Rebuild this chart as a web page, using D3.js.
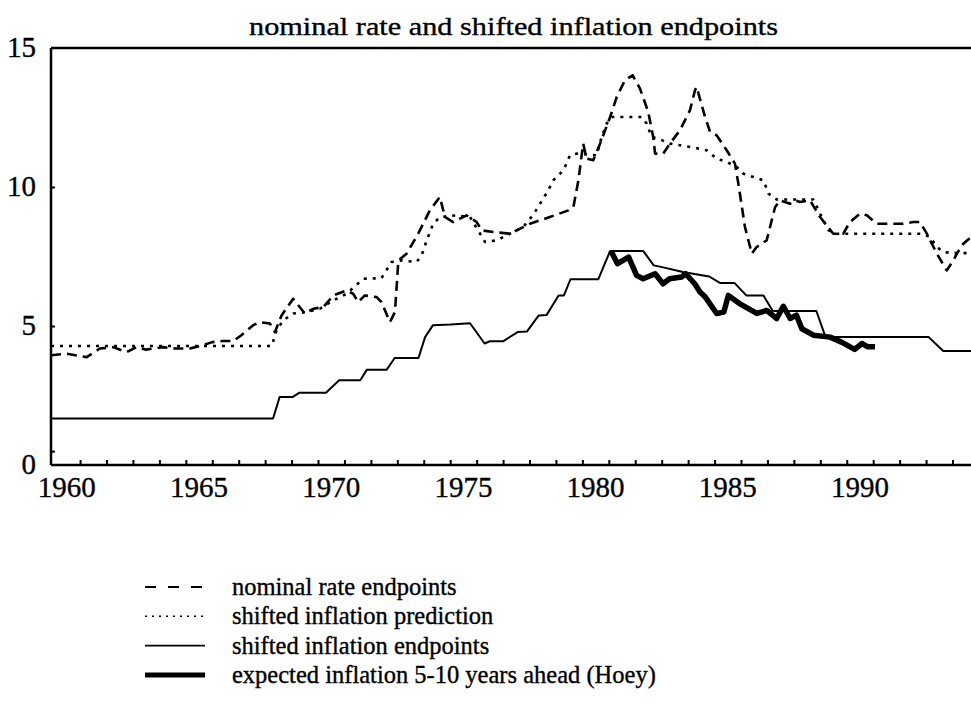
<!DOCTYPE html>
<html lang="en">
<head>
<meta charset="UTF-8">
<title>nominal rate and shifted inflation endpoints</title>
<script src="https://d3js.org/d3.v7.min.js"></script>
<style>
    body { margin: 0; background: white; }
    svg { display: block; font-family: "Liberation Serif", "Times New Roman", serif; }
    svg text { fill: black; stroke: black; stroke-width: 0.35px; }
</style>
</head>
<body>
<svg id="vis"></svg>
<script>
// values: [year, percent]
const nominalRate = [
    [1959.4, 3.95], [1960.0, 4.0], [1960.75, 3.88], [1961.25, 4.19], [1961.75, 4.24], [1962.26, 4.06],
    [1962.64, 4.24], [1963.0, 4.15], [1963.64, 4.24], [1964.0, 4.19], [1964.65, 4.19], [1965.0, 4.27],
    [1965.5, 4.42], [1965.9, 4.46], [1966.3, 4.46], [1966.6, 4.67], [1967.05, 5.03], [1967.3, 5.14],
    [1967.68, 5.09], [1967.87, 4.78], [1968.12, 5.38], [1968.56, 5.98], [1969.0, 5.45], [1969.32, 5.62],
    [1969.7, 5.68], [1970.08, 6.1], [1970.58, 6.28], [1970.83, 6.16], [1971.02, 5.86], [1971.27, 6.1],
    [1971.72, 6.04], [1971.9, 5.86], [1972.22, 5.14], [1972.41, 5.5], [1972.54, 7.36], [1972.85, 7.6],
    [1973.29, 8.32], [1973.73, 9.16], [1974.11, 9.64], [1974.3, 8.92], [1974.61, 8.74], [1975.12, 8.98],
    [1975.5, 8.74], [1975.69, 8.44], [1976.13, 8.38], [1976.76, 8.32], [1977.01, 8.44], [1977.52, 8.68],
    [1978.27, 8.92], [1978.97, 9.16], [1979.16, 9.28], [1979.35, 10.24], [1979.53, 11.56], [1979.66, 11.02],
    [1979.91, 10.96], [1980.17, 11.56], [1980.55, 12.52], [1980.8, 13.24], [1981.11, 13.84], [1981.4, 14.02],
    [1981.68, 13.54], [1981.99, 12.7], [1982.18, 11.8], [1982.25, 11.2], [1982.56, 11.2], [1982.81, 11.56],
    [1983.19, 12.04], [1983.57, 12.76], [1983.76, 13.48], [1983.82, 13.6], [1984.14, 12.52], [1984.33, 11.98],
    [1984.58, 11.86], [1984.96, 11.32], [1985.27, 10.84], [1985.4, 10.12], [1985.65, 8.56], [1985.91, 7.6],
    [1986.09, 7.84], [1986.47, 8.08], [1986.79, 9.28], [1986.98, 9.52], [1987.36, 9.4], [1987.55, 9.52],
    [1987.73, 9.46], [1988.11, 9.52], [1988.49, 8.92], [1988.99, 8.32], [1989.37, 8.32], [1989.62, 8.74],
    [1990.0, 9.04], [1990.26, 8.98], [1990.63, 8.68], [1991.01, 8.68], [1991.64, 8.68], [1992.02, 8.74],
    [1992.27, 8.74], [1992.53, 8.32], [1992.91, 7.6], [1993.28, 7.0], [1993.54, 7.36], [1993.66, 7.6],
    [1993.91, 7.96], [1994.2, 8.2]
];
const inflationPrediction = [
    [1959.4, 4.28], [1967.75, 4.28], [1967.93, 4.84], [1968.18, 5.2], [1968.56, 5.45], [1969.07, 5.5],
    [1969.57, 5.62], [1970.08, 5.92], [1970.58, 6.16], [1971.21, 6.7], [1971.9, 6.72], [1972.28, 7.3],
    [1972.66, 7.36], [1973.23, 7.3], [1973.42, 7.54], [1973.61, 8.08], [1973.86, 8.68], [1974.11, 8.92],
    [1974.74, 8.98], [1975.25, 8.92], [1975.63, 8.32], [1975.82, 8.02], [1976.26, 8.08], [1976.76, 8.32],
    [1977.26, 8.56], [1977.64, 9.0], [1977.9, 9.4], [1978.21, 9.88], [1978.4, 10.24], [1978.66, 10.48],
    [1978.84, 10.72], [1979.03, 11.14], [1979.28, 11.2], [1980.04, 11.14], [1980.23, 11.8], [1980.42, 12.28],
    [1980.61, 12.52], [1981.75, 12.52], [1981.93, 12.28], [1982.12, 11.8], [1982.37, 11.74], [1982.81, 11.56],
    [1983.19, 11.5], [1983.7, 11.42], [1984.2, 11.32], [1984.58, 11.02], [1984.96, 10.9], [1985.34, 10.72],
    [1985.59, 10.48], [1985.97, 10.36], [1986.35, 10.24], [1986.54, 9.76], [1986.85, 9.55], [1988.24, 9.55],
    [1988.49, 9.04], [1988.81, 8.44], [1989.12, 8.32], [1992.34, 8.32], [1992.65, 8.2], [1992.91, 7.84],
    [1993.16, 7.66], [1993.54, 7.62], [1994.2, 7.62]
];
const inflationEndpoints = [
    [1959.4, 1.67], [1967.8, 1.67], [1968.05, 2.45], [1968.55, 2.45], [1968.8, 2.6], [1969.8, 2.6],
    [1970.3, 3.05], [1971.1, 3.05], [1971.35, 3.43], [1972.1, 3.43], [1972.4, 3.85], [1973.3, 3.85],
    [1973.55, 4.6], [1973.85, 5.03], [1974.5, 5.05], [1975.25, 5.1], [1975.8, 4.37], [1976.0, 4.45],
    [1976.5, 4.45], [1977.05, 4.78], [1977.4, 4.8], [1977.85, 5.38], [1978.15, 5.4], [1978.6, 6.1],
    [1978.8, 6.1], [1979.05, 6.68], [1980.1, 6.68], [1980.55, 7.7], [1981.8, 7.7], [1982.2, 7.18],
    [1982.6, 7.1], [1983.3, 6.94], [1984.3, 6.78], [1984.7, 6.55], [1985.25, 6.55], [1985.7, 6.1],
    [1986.35, 6.1], [1986.7, 5.54], [1988.35, 5.54], [1988.7, 4.6], [1992.6, 4.6], [1993.15, 4.1],
    [1994.3, 4.1]
];
const hoeyExpected = [
    [1980.58, 7.7], [1980.83, 7.24], [1981.25, 7.48], [1981.55, 6.82], [1981.8, 6.7], [1982.25, 6.88],
    [1982.55, 6.52], [1982.8, 6.7], [1983.25, 6.76], [1983.4, 6.88], [1983.75, 6.52], [1983.95, 6.22],
    [1984.15, 6.04], [1984.58, 5.45], [1984.85, 5.5], [1985.02, 6.1], [1985.46, 5.8], [1986.1, 5.45],
    [1986.47, 5.56], [1986.85, 5.27], [1987.1, 5.71], [1987.36, 5.27], [1987.6, 5.39], [1987.8, 4.9],
    [1988.24, 4.67], [1988.87, 4.6], [1989.3, 4.42], [1989.8, 4.16], [1990.07, 4.37], [1990.3, 4.25],
    [1990.57, 4.25]
];

const yearLabels = [1960, 1965, 1970, 1975, 1980, 1985, 1990];
const minorYears = d3.range(1960.5, 1994, 1);
const valueLabels = [0, 5, 10, 15];
const valueTicks = [0.5, 5, 10];

const legendItems = [
    { label: "nominal rate endpoints", dash: "11,12", width: 2 },
    { label: "shifted inflation prediction", dash: "2,5", width: 1.6 },
    { label: "shifted inflation endpoints", dash: null, width: 1.6 },
    { label: "expected inflation 5-10 years ahead (Hoey)", dash: null, width: 5 }
];

const width = 971, height = 713;
const margin = { left: 51, right: 0, top: 48, bottom: 248 };

const svg = d3.select("#vis").attr("width", width).attr("height", height);

const x = d3.scaleLinear().domain([1959.4, 1994.2]).range([margin.left, width - margin.right]);
const y = d3.scaleLinear().domain([0, 15]).range([height - margin.bottom, margin.top]);

svg.append("defs").append("clipPath").attr("id", "plot")
    .append("rect")
    .attr("x", margin.left).attr("y", margin.top - 2)
    .attr("width", width - margin.left - margin.right)
    .attr("height", y(0) - margin.top + 2);

// title
svg.append("text")
    .attr("x", 249).attr("y", 35)
    .attr("font-size", 26)
    .attr("textLength", 529)
    .attr("lengthAdjust", "spacingAndGlyphs")
    .text("nominal rate and shifted inflation endpoints");

const line = d3.line().x(d => x(d[0])).y(d => y(d[1]));
const lines = svg.append("g").attr("clip-path", "url(#plot)").attr("fill", "none").attr("stroke", "black")
    .attr("stroke-linejoin", "round");

lines.append("path").datum(inflationEndpoints).attr("d", line).attr("stroke-width", 2);
lines.append("path").datum(inflationPrediction).attr("d", line)
    .attr("stroke-width", 2.6).attr("stroke-dasharray", "3,6");
lines.append("path").datum(nominalRate).attr("d", line)
    .attr("stroke-width", 2.6).attr("stroke-dasharray", "10,6");
lines.append("path").datum(hoeyExpected).attr("d", line).attr("stroke-width", 5.5);

// frame: left, bottom and top
const frame = svg.append("g").attr("stroke", "black").attr("stroke-width", 2.5);
frame.append("line").attr("x1", margin.left).attr("x2", margin.left).attr("y1", y(15)).attr("y2", y(0));
frame.append("line").attr("x1", margin.left).attr("x2", width).attr("y1", y(0)).attr("y2", y(0));
frame.append("line").attr("x1", margin.left).attr("x2", width).attr("y1", y(15)).attr("y2", y(15));

// x axis
const xAxis = svg.append("g").attr("transform", `translate(0,${y(0)})`)
    .call(d3.axisBottom(x).tickValues(minorYears).tickSize(-5).tickFormat(""));
xAxis.select(".domain").remove();
xAxis.selectAll(".tick line").attr("stroke-width", 2);

svg.append("g").selectAll("text").data(yearLabels).join("text")
    .attr("x", d => x(d)).attr("y", y(0) + 32)
    .attr("text-anchor", "middle")
    .attr("font-size", 29)
    .text(d => d);

// y axis
const yAxis = svg.append("g").attr("transform", `translate(${margin.left},0)`)
    .call(d3.axisLeft(y).tickValues(valueTicks).tickSize(-4).tickFormat(""));
yAxis.select(".domain").remove();
yAxis.selectAll(".tick line").attr("stroke-width", 2);

svg.append("g").selectAll("text").data(valueLabels).join("text")
    .attr("x", 36).attr("y", d => y(d) + 9)
    .attr("text-anchor", "end")
    .attr("font-size", 29)
    .text(d => d);

// legend
const legend = svg.append("g").attr("transform", "translate(145,587)");
const rows = legend.selectAll("g").data(legendItems).join("g")
    .attr("transform", (d, i) => `translate(0,${i * 29.3})`);
rows.append("line")
    .attr("x1", 0).attr("x2", 60)
    .attr("stroke", "black")
    .attr("stroke-width", d => d.width)
    .attr("stroke-dasharray", d => d.dash);
rows.append("text")
    .attr("x", 87).attr("y", 8)
    .attr("font-size", 24.5)
    .text(d => d.label);
</script>
</body>
</html>
